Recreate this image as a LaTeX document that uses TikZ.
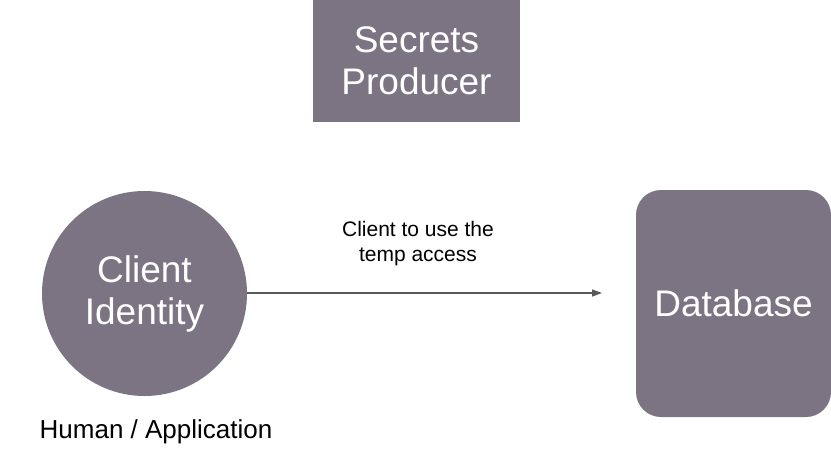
\documentclass[tikz,border=0pt]{standalone}
\usepackage{fontspec}
\setmainfont{Liberation Sans}
\usetikzlibrary{positioning, arrows.meta}
\definecolor{boxgray}{RGB}{124,115,131}
\definecolor{linegray}{RGB}{89,89,89}
\tikzset{
	block/.style={fill=boxgray, text=white, align=center, inner sep=0pt,
		font=\fontsize{37}{42}\selectfont},
	flow/.style={-{Triangle[length=10pt, width=7pt]}, linegray, line width=1.3pt},
}

\begin{document}
\begin{tikzpicture}[x=1pt, y=-1pt]
	\useasboundingbox (0, 0) rectangle (831, 450);
	
	% Boxes
	\node[block, rectangle, minimum width=207pt, minimum height=122pt] (producer) at (416.5, 61) {Secrets\\Producer};
	\node[block, circle, minimum size=205pt] (client) at (144.5, 293.5) {Client\\Identity};
	\node[block, rectangle, rounded corners=25pt, minimum width=195pt, minimum height=227pt] (db) at (733.5, 303.5) {Database};
	\node[font=\fontsize{26}{30}\selectfont, inner sep=0pt] (who) at (156, 432) {Human / Application};
	
	% Arrow to the database
	\coordinate (tip) at (602, 293);
	\draw[flow] (client.east |- tip) -- (tip);
	\node[font=\fontsize{21}{25}\selectfont, align=center, inner sep=0pt] (note) at (418, 244) {Client to use the\\temp access};
\end{tikzpicture}
\end{document}
